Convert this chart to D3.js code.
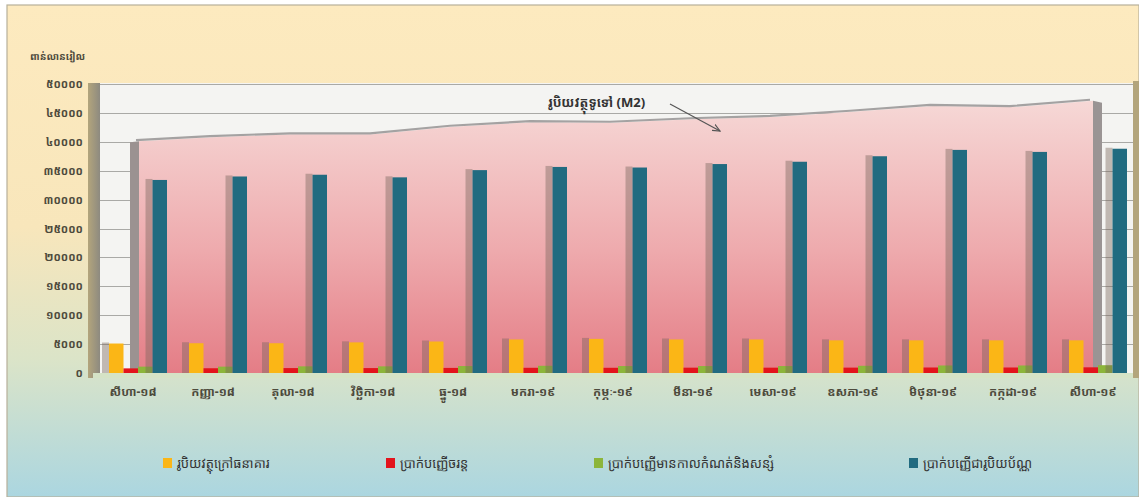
<!DOCTYPE html>
<html><head><meta charset="utf-8">
<script src="https://cdn.jsdelivr.net/npm/d3@7/dist/d3.min.js"></script>
<style>html,body{margin:0;padding:0;background:#fff;}svg{display:block;}</style>
</head><body>
<svg id="c" width="1139" height="497"></svg>
<script>
const categories = ["សីហា-១៨","កញ្ញា-១៨","តុលា-១៨","វិច្ឆិកា-១៨","ធ្នូ-១៨","មករា-១៩","កុម្ភៈ-១៩","មីនា-១៩","មេសា-១៩","ឧសភា-១៩","មិថុនា-១៩","កក្កដា-១៩","សីហា-១៩"];
const currencyOutside = [5100,5150,5150,5300,5450,5800,5900,5800,5800,5650,5650,5650,5650];
const demandDeposits  = [800,820,850,850,880,900,900,920,920,930,950,950,980];
const timeSavings     = [1100,1100,1150,1150,1200,1250,1200,1200,1200,1250,1300,1300,1350];
const foreignDeposits = [33400,34000,34300,33850,35100,35650,35550,36150,36550,37500,38600,38250,38800];
const m2Values        = [40100,40800,41300,41300,42600,43400,43300,43900,44300,45200,46200,46000,47100];
const yTicks = [0,5000,10000,15000,20000,25000,30000,35000,40000,45000,50000];
const khmerDigits = "០១២៣៤៥៦៧៨៩";
const seriesNames = ["រូបិយវត្ថុក្រៅធនាគារ","ប្រាក់បញ្ញើចរន្ត","ប្រាក់បញ្ញើមានកាលកំណត់និងសន្សំ","ប្រាក់បញ្ញើជារូបិយប័ណ្ណ"];
const seriesColors = ["#fbb616","#e3141c","#8cb53a","#216b80"];
const unitLabel = "ពាន់លានរៀល";
const m2Label = "រូបិយវត្ថុទូទៅ (M2)";

(function(){
const toKhmer = n => String(n).replace(/[0-9]/g, d => khmerDigits[+d]);
const FONT = "'Noto Sans Khmer','Khmer OS','Noto Sans','DejaVu Sans',sans-serif";

const svg = d3.select("#c");
const defs = svg.append("defs");

const bg = defs.append("linearGradient").attr("id","bg").attr("x1",0).attr("y1",0).attr("x2",0).attr("y2",1);
[["0%","#fdeabf"],["45%","#f8e6bb"],["72%","#dbe4c8"],["100%","#abd6e0"]].forEach(s=>bg.append("stop").attr("offset",s[0]).attr("stop-color",s[1]));
const ag = defs.append("linearGradient").attr("id","ag").attr("x1",0).attr("y1",0).attr("x2",0).attr("y2",1);
[["0%","#f6d8d6"],["55%","#eeaaad"],["100%","#e47d86"]].forEach(s=>ag.append("stop").attr("offset",s[0]).attr("stop-color",s[1]));
const sw = defs.append("linearGradient").attr("id","sw").attr("x1",0).attr("y1",0).attr("x2",1).attr("y2",0);
[["0%","#b3a57c"],["100%","#8d8a80"]].forEach(s=>sw.append("stop").attr("offset",s[0]).attr("stop-color",s[1]));
const mk = defs.append("marker").attr("id","arr").attr("viewBox","0 0 10 10").attr("refX",9).attr("refY",5)
  .attr("markerWidth",7).attr("markerHeight",7).attr("orient","auto");
mk.append("path").attr("d","M0,1 L9,5 L0,9").attr("fill","none").attr("stroke","#555").attr("stroke-width",1.4);

svg.append("rect").attr("x",7).attr("y",5).attr("width",1132).attr("height",492)
  .attr("fill","url(#bg)").attr("stroke","#b7b09a").attr("stroke-width",1.2);

const pLeft = 100, pRight = 1133, pTop = 83, pBottom = 373;
const x = d3.scaleBand().domain(categories).range([93, 1133]).padding(0);
const y = d3.scaleLinear().domain([0, 50000]).range([pBottom, 84]);
const inner = d3.scaleBand().domain(d3.range(4)).range([-24, 34]).padding(0);

svg.append("rect").attr("x",88).attr("y",pTop).attr("width",12).attr("height",pBottom-pTop+5).attr("fill","url(#sw)");
svg.append("rect").attr("x",pLeft).attr("y",pTop).attr("width",pRight-pLeft).attr("height",pBottom-pTop).attr("fill","#f4f4f2");
svg.append("rect").attr("x",pRight).attr("y",pTop-2).attr("width",6).attr("height",pBottom-pTop+7).attr("fill","#b3a57c");
svg.append("rect").attr("x",93).attr("y",pBottom).attr("width",pRight-93).attr("height",5).attr("fill","#d5e3c6");

svg.append("g").selectAll("line").data(yTicks.filter(t=>t>0)).join("line")
  .attr("x1",pLeft).attr("x2",pRight).attr("y1",d=>Math.round(y(d))+0.5).attr("y2",d=>Math.round(y(d))+0.5)
  .attr("stroke","#a9a9a6").attr("stroke-width",1);

const yAxis = d3.axisLeft(y).tickValues(yTicks).tickSize(0).tickPadding(0).tickFormat(toKhmer);
const yg = svg.append("g").attr("transform","translate(83,0)").call(yAxis);
yg.select(".domain").remove();
yg.selectAll("text").attr("font-family",FONT).attr("font-size",11).attr("font-weight","bold").attr("fill","#4d4a3c");
svg.append("text").attr("x",30).attr("y",60).attr("font-family",FONT).attr("font-size",10).attr("font-weight","bold")
  .attr("fill","#4d4a3c").text(unitLabel);

const cx = d => x(d) + x.bandwidth()/2;
const m2 = categories.map((c,i)=>({c, v:m2Values[i]}));
const ax = d => cx(d.c) + (d.c===categories[0] ? 6 : 0);
const area = d3.area().x(ax).y0(pBottom).y1(d=>y(d.v));
const line = d3.line().x(ax).y(d=>y(d.v));
const x0 = cx(categories[0])+6, xN = cx(categories[categories.length-1]);
svg.append("path").attr("d",`M${x0-9},${y(m2Values[0])+1} L${x0},${y(m2Values[0])} L${x0},${pBottom} L${x0-9},${pBottom} Z`).attr("fill","#9b9291");
svg.append("path").attr("d",`M${xN},${y(m2Values[m2Values.length-1])} L${xN+9},${y(m2Values[m2Values.length-1])+2} L${xN+9},${pBottom} L${xN},${pBottom} Z`).attr("fill","#9a9494");
svg.append("path").datum(m2).attr("d",area).attr("fill","url(#ag)");
svg.append("path").datum(m2).attr("d",line).attr("fill","none").attr("stroke","#a4a2a2").attr("stroke-width",2.2).attr("transform","translate(-3,-1)");

const series = [currencyOutside, demandDeposits, timeSavings, foreignDeposits];
series.forEach((vals, si) => {
  const g = svg.append("g");
  const data = categories.map((c,i)=>({c, v:vals[i]}));
  if (si === 0 || si === 3) {
    g.selectAll("rect.sh").data(data).join("rect").attr("class","sh")
      .attr("x",d=>cx(d.c)+inner(si)-7).attr("y",d=>y(d.v)-1).attr("width",7).attr("height",d=>pBottom-y(d.v)+1)
      .attr("fill","rgba(120,100,90,0.42)");
  }
  g.selectAll("rect.b").data(data).join("rect").attr("class","b")
    .attr("x",d=>cx(d.c)+inner(si)).attr("y",d=>y(d.v)).attr("width",inner.bandwidth()).attr("height",d=>pBottom-y(d.v))
    .attr("fill",seriesColors[si]);
});

const xAxis = d3.axisBottom(x).tickSize(0).tickPadding(0);
const xg = svg.append("g").attr("transform","translate(0,392)").call(xAxis);
xg.select(".domain").remove();
xg.selectAll("text").attr("font-family",FONT).attr("font-size",12).attr("font-weight","bold").attr("fill","#4d4a3c").attr("dy","0.35em");

svg.append("text").attr("x",548).attr("y",107).attr("font-family",FONT).attr("font-size",13).attr("font-weight","bold")
  .attr("fill","#333").text(m2Label);
svg.append("line").attr("x1",670).attr("y1",104).attr("x2",720).attr("y2",131)
  .attr("stroke","#555").attr("stroke-width",1.2).attr("marker-end","url(#arr)");

const legX = [163, 386, 594, 909];
const lg = svg.append("g").selectAll("g").data(seriesNames).join("g").attr("transform",(d,i)=>`translate(${legX[i]},458)`);
lg.append("rect").attr("width",9).attr("height",10).attr("fill",(d,i)=>seriesColors[i]);
lg.append("text").attr("x",14).attr("y",5).attr("dy","0.35em").attr("font-family",FONT).attr("font-size",13)
  .attr("fill","#333").text(d=>d);
})();
</script>
</body></html>
